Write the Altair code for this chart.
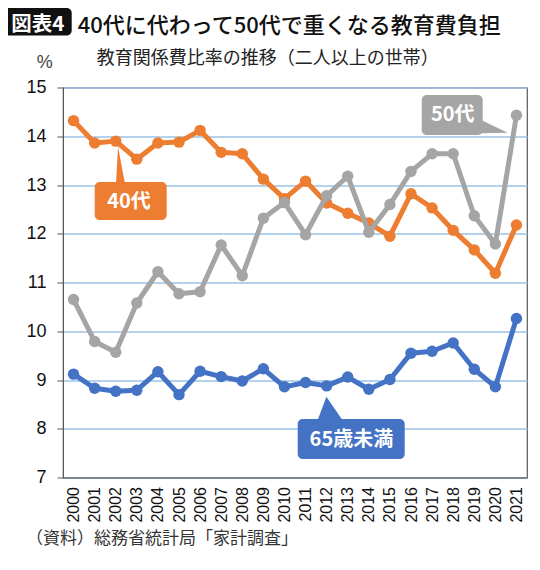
import altair as alt
import pandas as pd

years = [2000, 2001, 2002, 2003, 2004, 2005, 2006, 2007, 2008, 2009, 2010,
         2011, 2012, 2013, 2014, 2015, 2016, 2017, 2018, 2019, 2020, 2021]
age40 = [14.32, 13.86, 13.90, 13.53, 13.86, 13.88, 14.12, 13.67, 13.64, 13.12, 12.72,
         13.08, 12.63, 12.42, 12.22, 11.95, 12.82, 12.53, 12.07, 11.67, 11.19, 12.18]
age50 = [10.65, 9.79, 9.57, 10.58, 11.22, 10.77, 10.81, 11.77, 11.14, 12.32, 12.64,
         11.98, 12.78, 13.18, 12.03, 12.60, 13.28, 13.64, 13.64, 12.37, 11.79, 14.43]
under65 = [9.12, 8.83, 8.77, 8.79, 9.17, 8.70, 9.18, 9.07, 8.98, 9.23, 8.86,
           8.95, 8.88, 9.06, 8.81, 9.01, 9.55, 9.59, 9.76, 9.22, 8.86, 10.26]
y_ticks = [7, 8, 9, 10, 11, 12, 13, 14, 15]

series_names = ["65歳未満", "40代", "50代"]
series_values = [under65, age40, age50]
series_colors = ["#4472C4", "#ED7D31", "#A5A5A5"]

title_text = "40代に代わって50代で重くなる教育費負担"
badge_text = "図表4"
subtitle_text = "教育関係費比率の推移（二人以上の世帯）"
unit_text = "%"
source_text = "（資料）総務省統計局「家計調査」"

JP = "Noto Sans CJK JP"
W, H = 464, 390

x_scale = alt.Scale(domain=[1999.5, 2021.5], nice=False, zero=False)
y_scale = alt.Scale(domain=[7, 15], nice=False, zero=False)

x_axis = alt.Axis(values=years, format="d", labelAngle=270, ticks=False,
                  grid=False, labelFontSize=16, labelFont="Liberation Sans",
                  labelColor="#111", labelPadding=9, domainColor="#595959",
                  title=None, labelOverlap=False)
y_axis = alt.Axis(values=y_ticks, format="d", tickSize=6, tickColor="#595959",
                  grid=True, gridColor="#9DC3E6", gridWidth=1.5,
                  labelFontSize=18, labelFont="Liberation Sans", labelColor="#111",
                  labelPadding=11, domainColor="#595959", title=None)

xa = alt.X("year:Q", scale=x_scale, axis=x_axis)
ya = alt.Y("value:Q", scale=y_scale, axis=y_axis)

layers = []
for name, vals, col in zip(series_names, series_values, series_colors):
    df = pd.DataFrame({"year": years, "value": vals, "series": name})
    base = alt.Chart(df)
    line = base.mark_line(color=col, strokeWidth=5, strokeJoin="round").encode(x=xa, y=ya)
    pts = base.mark_point(color=col, filled=True, opacity=1, size=130).encode(x=xa, y=ya)
    layers += [line, pts]

one = pd.DataFrame({"k": [0]})


def box(x, x2, y, y2, color):
    return alt.Chart(one).mark_rect(color=color, cornerRadius=5).encode(
        x=alt.value(x), x2=alt.value(x2), y=alt.value(y), y2=alt.value(y2))


def pointer(x, y, path, color):
    return alt.Chart(one).mark_point(shape=path, size=4, filled=True, color=color,
                                     opacity=1, strokeWidth=0).encode(
        x=alt.value(x), y=alt.value(y))


def label(x, y, text, size, color="white", weight="bold", align="center", font=JP):
    return alt.Chart(pd.DataFrame({"t": [text]})).mark_text(
        fontSize=size, fontWeight=weight, color=color, align=align,
        baseline="middle", font=font).encode(
        x=alt.value(x), y=alt.value(y), text="t:N")


# callouts
layers += [
    box(31.7, 103.7, 94.5, 132.5, "#ED7D31"),
    pointer(55, 59.2, "M0,0 L-2,37 L7,37 Z", "#ED7D31"),
    label(66, 114.5, "40代", 20),
    box(234.7, 341.7, 331.5, 371.5, "#4472C4"),
    pointer(263.4, 309.2, "M0,0 L-9,24 L16.5,24 Z", "#4472C4"),
    label(288.4, 352.5, "65歳未満", 20),
    box(358.7, 419.7, 7.5, 47.5, "#A5A5A5"),
    pointer(444.7, 45.2, "M0,0 L-27,-13 L-27,0.5 Z", "#A5A5A5"),
    label(389.7, 27.5, "50代", 20),
]

# titles and footer
layers += [
    box(-59.3, 8.7, -79.5, -52, "#111111"),
    label(-25.3, -62.3, badge_text, 20.5),
    label(14.7, -61.3, title_text, 22, color="#111", weight=500, align="left"),
    label(33.7, -28.5, subtitle_text, 18, color="#222", weight="normal", align="left"),
    label(-18.3, -24.5, unit_text, 18, color="#444", weight="normal",
          font="Liberation Sans"),
    label(-37, 451, source_text, 17, color="#333", weight="normal", align="left"),
]

chart = alt.layer(*layers).properties(
    width=W, height=H,
    autosize=alt.AutoSizeParams(type="none"),
    padding={"left": 55, "top": 79.5, "right": 5, "bottom": 84.5},
    background="white",
).configure_view(stroke="#595959", strokeWidth=1.2)

chart.save("out.html", embed_options={"renderer": "svg", "actions": False})
